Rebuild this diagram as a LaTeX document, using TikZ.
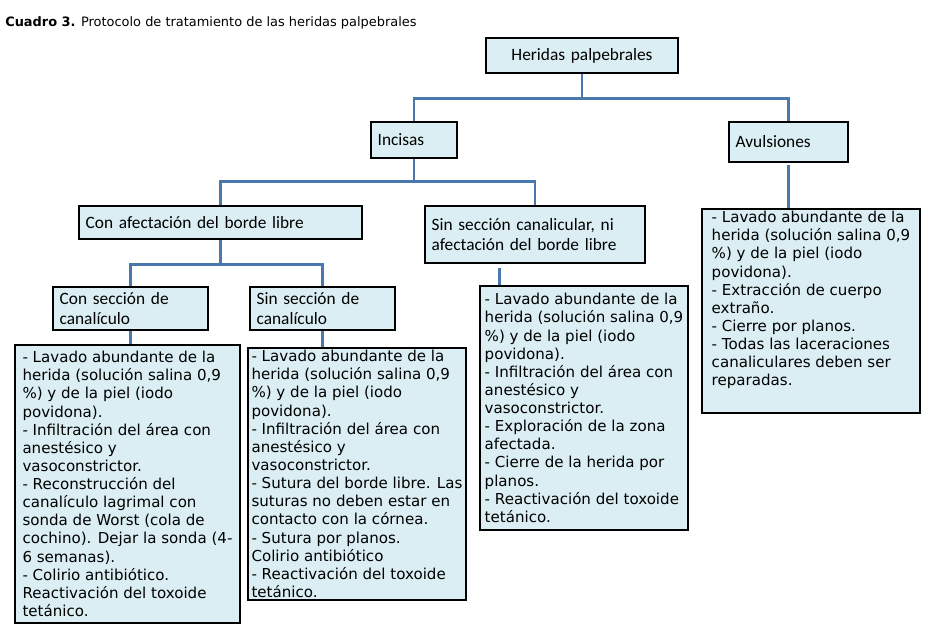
\documentclass[tikz,border=0pt]{standalone}
\usepackage{fontspec}
\setmainfont{Carlito}
\newfontfamily\titlefont{DejaVu Sans}
\usepackage{xcolor}
\usepackage{tikz}
\usetikzlibrary{calc,positioning}
\definecolor{linkc}{HTML}{4A77AC}
\definecolor{boxbg}{HTML}{DAEEF3}
\tikzset{
  lnk/.style={line width=2.2pt,linkc},
  box/.style={draw=black,line width=2.2pt,fill=boxbg,anchor=north west,inner xsep=5pt,inner ysep=2pt,align=left,font=\fontsize{13}{15}\selectfont},
  sz/.style 2 args={text width=#1*0.75pt-10pt,minimum height=#2*0.75pt},
  lst/.style 2 args={box,inner xsep=2pt,inner ysep=0.5pt,minimum width=#1*0.75pt,minimum height=#2*0.75pt,font=\titlefont\fontsize{11.3}{13.6}\selectfont}
}

\begin{document}
\begin{tikzpicture}[x=0.75pt,y=-0.75pt]
\useasboundingbox (0,0) rectangle (928,632);
\node[anchor=base west,inner sep=0pt,font=\titlefont\fontsize{9.7}{11}\selectfont] (title) at (5,26) {\textbf{Cuadro 3.} Protocolo de tratamiento de las heridas palpebrales};
\node[box,sz={192}{35},align=center] (root) at (484.5,36.5) {Heridas palpebrales};
\node[box,sz={86}{36}] (incisas) at (369.5,120.5) {Incisas};
\node[box,sz={119}{40}] (avuls) at (727.5,120.5) {Avulsiones};
\node[box,sz={283}{33}] (conaf) at (77.5,204.5) {Con afectación del borde libre};
\node[box,sz={220}{57}] (sinsec) at (423.5,204.5) {Sin sección canalicular, ni\\afectación del borde libre\\[3pt]};
\node[box,sz={155}{43}] (consec) at (51.5,285.5) {Con sección de\\canalículo};
\node[box,sz={145}{43}] (sinsc) at (248.5,285.5) {Sin sección de\\canalículo};
\node[lst={225}{278}] (list1) at (13.5,343.5) {- Lavado abundante de la\\herida (solución salina 0,9\\\%) y de la piel (iodo\\povidona).\\- Infiltración del área con\\anestésico y\\vasoconstrictor.\\- Reconstrucción del\\canalículo lagrimal con\\sonda de Worst (cola de\\cochino). Dejar la sonda (4-\\6 semanas).\\- Colirio antibiótico.\\Reactivación del toxoide\\tetánico.};
\node[lst={218}{252}] (list2) at (246.5,346.5) {- Lavado abundante de la\\herida (solución salina 0,9\\\%) y de la piel (iodo\\povidona).\\- Infiltración del área con\\anestésico y\\vasoconstrictor.\\- Sutura del borde libre. Las\\suturas no deben estar en\\contacto con la córnea.\\- Sutura por planos.\\Colirio antibiótico\\- Reactivación del toxoide\\tetánico.};
\node[lst={208}{244}] (list3) at (478.5,284.5) {- Lavado abundante de la\\herida (solución salina 0,9\\\%) y de la piel (iodo\\povidona).\\- Infiltración del área con\\anestésico y\\vasoconstrictor.\\- Exploración de la zona\\afectada.\\- Cierre de la herida por\\planos.\\- Reactivación del toxoide\\tetánico.};
\node[lst={218}{204}] (list4) at (700.5,207.5) {- Lavado abundante de la\\herida (solución salina 0,9\\\%) y de la piel (iodo\\povidona).\\- Extracción de cuerpo\\extraño.\\- Cierre por planos.\\- Todas las laceraciones\\canaliculares deben ser\\reparadas.\\[5pt]};
\coordinate (h1) at ($(root.south)+(0,24.5)$);
\coordinate (h2) at ($(incisas.south)+(0,22.5)$);
\coordinate (h3) at ($(conaf.south)+(0,24.5)$);
\draw[lnk] (root.south) -- (h1);
\draw[lnk] (incisas.north) |- (h1) -| (avuls.north);
\draw[lnk] (incisas.south) -- (h2);
\draw[lnk] (conaf.north) |- (h2) -| (sinsec.north);
\draw[lnk] (conaf.south) -- (h3);
\draw[lnk] (consec.north) |- (h3) -| (sinsc.north);
\draw[lnk] (consec.south) -- (consec.south |- list1.north);
\draw[lnk] (sinsc.south) -- (sinsc.south |- list2.north);
\draw[lnk,shorten <=3pt] ($(sinsec.south west)!0.34!(sinsec.south east)$) coordinate (s3) -- (s3 |- list3.north);
\draw[lnk,shorten <=1.5pt] (avuls.south) -- (avuls.south |- list4.north);
\end{tikzpicture}
\end{document}
